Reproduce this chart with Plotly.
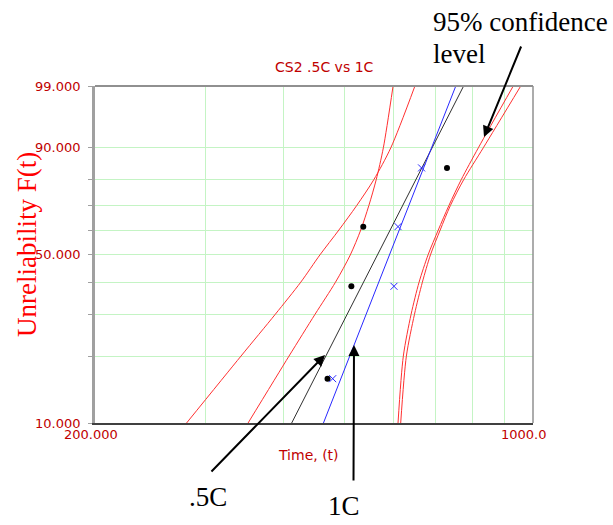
import numpy as np
import plotly.graph_objects as go

# ---------------- data ----------------
F_levels = [10, 20, 30, 40, 50, 60, 70, 80, 90, 99]          # unreliability, %
F_labels = {10: "10.000", 50: "50.000", 90: "90.000", 99: "99.000"}

# median-rank plotting positions (%), 4 failures each
F_points = [15.9, 38.6, 61.4, 84.1]
t_05C = [470, 513, 536, 729]          # .5C failure times
t_1C = [479, 600, 609, 664]           # 1C failure times

# fitted Weibull lines (end points at F = 10% and 99%)
F_line = [10, 99]
t_line_05C = [412, 775]
t_line_1C = [463, 753]

# 95% confidence bounds (time at each F level)
t_bound_A = [280, 342, 388, 426, 457, 490, 523, 557, 593, 648]
t_bound_B = [351, 408, 449, 484, 511, 531, 547, 562, 577, 598]
t_bound_C = [609, 621, 639, 658, 680, 706, 734, 768, 818, 930]
t_bound_D = [615, 628, 647, 666, 686, 711, 738, 775, 833, 956]

x_grid = [300, 400, 500, 600, 700, 800, 900]


def wb(F):
    """Weibull probability-paper ordinate."""
    return np.log(-np.log(1 - np.asarray(F, dtype=float) / 100.0))


RED = "#ff3030"
LABEL_RED = "#c00000"
GRID = "#c4f4c4"
BLUE = "#2828ff"

fig = go.Figure()

for tb in (t_bound_A, t_bound_B, t_bound_C, t_bound_D):
    fig.add_trace(go.Scatter(x=tb, y=wb(F_levels), mode="lines",
                             line=dict(color=RED, width=1, shape="spline", smoothing=0.8),
                             hoverinfo="skip", showlegend=False))

fig.add_trace(go.Scatter(x=t_line_05C, y=wb(F_line), mode="lines",
                         line=dict(color="#303030", width=1), showlegend=False))
fig.add_trace(go.Scatter(x=t_line_1C, y=wb(F_line), mode="lines",
                         line=dict(color=BLUE, width=1), showlegend=False))

fig.add_trace(go.Scatter(x=t_05C, y=wb(F_points), mode="markers",
                         marker=dict(symbol="circle", size=6, color="black"),
                         showlegend=False))
fig.add_trace(go.Scatter(x=t_1C, y=wb(F_points), mode="markers",
                         marker=dict(symbol="x-thin-open", size=7, color=BLUE,
                                     line=dict(color=BLUE, width=1)),
                         showlegend=False))

W, H = 613, 525
L, R, T, B = 95, 80, 86, 102
pw, ph = W - L - R, H - T - B


def px(xp):
    return (xp - L) / pw


def py(yp):
    return (H - B - yp) / ph


annotations = []
# y tick labels
for F, txt in F_labels.items():
    annotations.append(dict(x=px(83), y=float(wb(F)), xref="paper", yref="y",
                            text=txt, showarrow=False, xanchor="right", yanchor="middle",
                            font=dict(family="DejaVu Sans", size=13, color=LABEL_RED)))
# x tick labels
annotations.append(dict(x=px(91), y=py(435), xref="paper", yref="paper", text="200.000",
                        showarrow=False, xanchor="center", yanchor="middle",
                        font=dict(family="DejaVu Sans", size=13, color=LABEL_RED)))
annotations.append(dict(x=px(499), y=py(435), xref="paper", yref="paper", text="1000.0",
                        showarrow=False, xanchor="left", yanchor="middle",
                        font=dict(family="DejaVu Sans", size=13, color=LABEL_RED)))
# title and axis titles
annotations.append(dict(x=px(324), y=py(67), xref="paper", yref="paper", text="CS2 .5C vs 1C",
                        showarrow=False, xanchor="center", yanchor="middle",
                        font=dict(family="DejaVu Sans", size=14, color=LABEL_RED)))
annotations.append(dict(x=px(308), y=py(455), xref="paper", yref="paper", text="Time, (t)",
                        showarrow=False, xanchor="center", yanchor="middle",
                        font=dict(family="DejaVu Sans", size=14, color=LABEL_RED)))
annotations.append(dict(x=px(27), y=py(245), xref="paper", yref="paper",
                        text="Unreliability F(t)", textangle=-90,
                        showarrow=False, xanchor="center", yanchor="middle",
                        font=dict(family="Liberation Serif", size=27, color="red")))
# callout texts
serif = dict(family="Liberation Serif", size=27, color="black")
annotations.append(dict(x=px(431), y=py(22), xref="paper", yref="paper", text="95% confidence",
                        showarrow=False, xanchor="left", yanchor="middle", font=serif))
annotations.append(dict(x=px(431), y=py(54), xref="paper", yref="paper", text="level",
                        showarrow=False, xanchor="left", yanchor="middle", font=serif))
annotations.append(dict(x=px(208), y=py(497), xref="paper", yref="paper", text=".5C",
                        showarrow=False, xanchor="center", yanchor="middle", font=serif))
annotations.append(dict(x=px(344), y=py(506), xref="paper", yref="paper", text="1C",
                        showarrow=False, xanchor="center", yanchor="middle", font=serif))
# arrows (head, tail in pixels)
for (hx, hy), (tx, ty) in [((484, 137), (521.7, 45)),
                           ((325, 355), (210, 473)),
                           ((354, 345), (353.5, 482))]:
    annotations.append(dict(x=px(hx), y=py(hy), xref="paper", yref="paper", text="",
                            showarrow=True, arrowhead=2, arrowsize=1.1, arrowwidth=2,
                            arrowcolor="black", ax=tx - hx, ay=ty - hy, standoff=0))

fig.update_layout(
    width=W, height=H,
    margin=dict(l=L, r=R, t=T, b=B, pad=0),
    paper_bgcolor="white", plot_bgcolor="white",
    showlegend=False,
    annotations=annotations,
    shapes=[
        dict(type="line", xref="paper", yref="paper", x0=0, x1=1, y0=1, y1=1,
             line=dict(color="#909090", width=2)),
        dict(type="line", xref="paper", yref="paper", x0=1, x1=1, y0=0, y1=1,
             line=dict(color="#909090", width=1.5)),
    ],
    xaxis=dict(type="log", range=[np.log10(200), np.log10(1000)],
               tickmode="array", tickvals=x_grid, showticklabels=False,
               showgrid=True, gridcolor=GRID, gridwidth=1, ticks="",
               showline=True, linecolor="#404040", linewidth=2, zeroline=False),
    yaxis=dict(range=[float(wb(10)), float(wb(99))],
               tickmode="array", tickvals=[float(v) for v in wb(F_levels)],
               showticklabels=False, showgrid=True, gridcolor=GRID, gridwidth=1,
               ticks="outside", ticklen=4, tickcolor="#a0a0a0",
               showline=True, linecolor="#a0a0a0", linewidth=3, zeroline=False),
)

fig.write_html("out.html", config={"displayModeBar": False},
               post_script="document.body.style.margin='0px';document.body.style.overflow='hidden';")
